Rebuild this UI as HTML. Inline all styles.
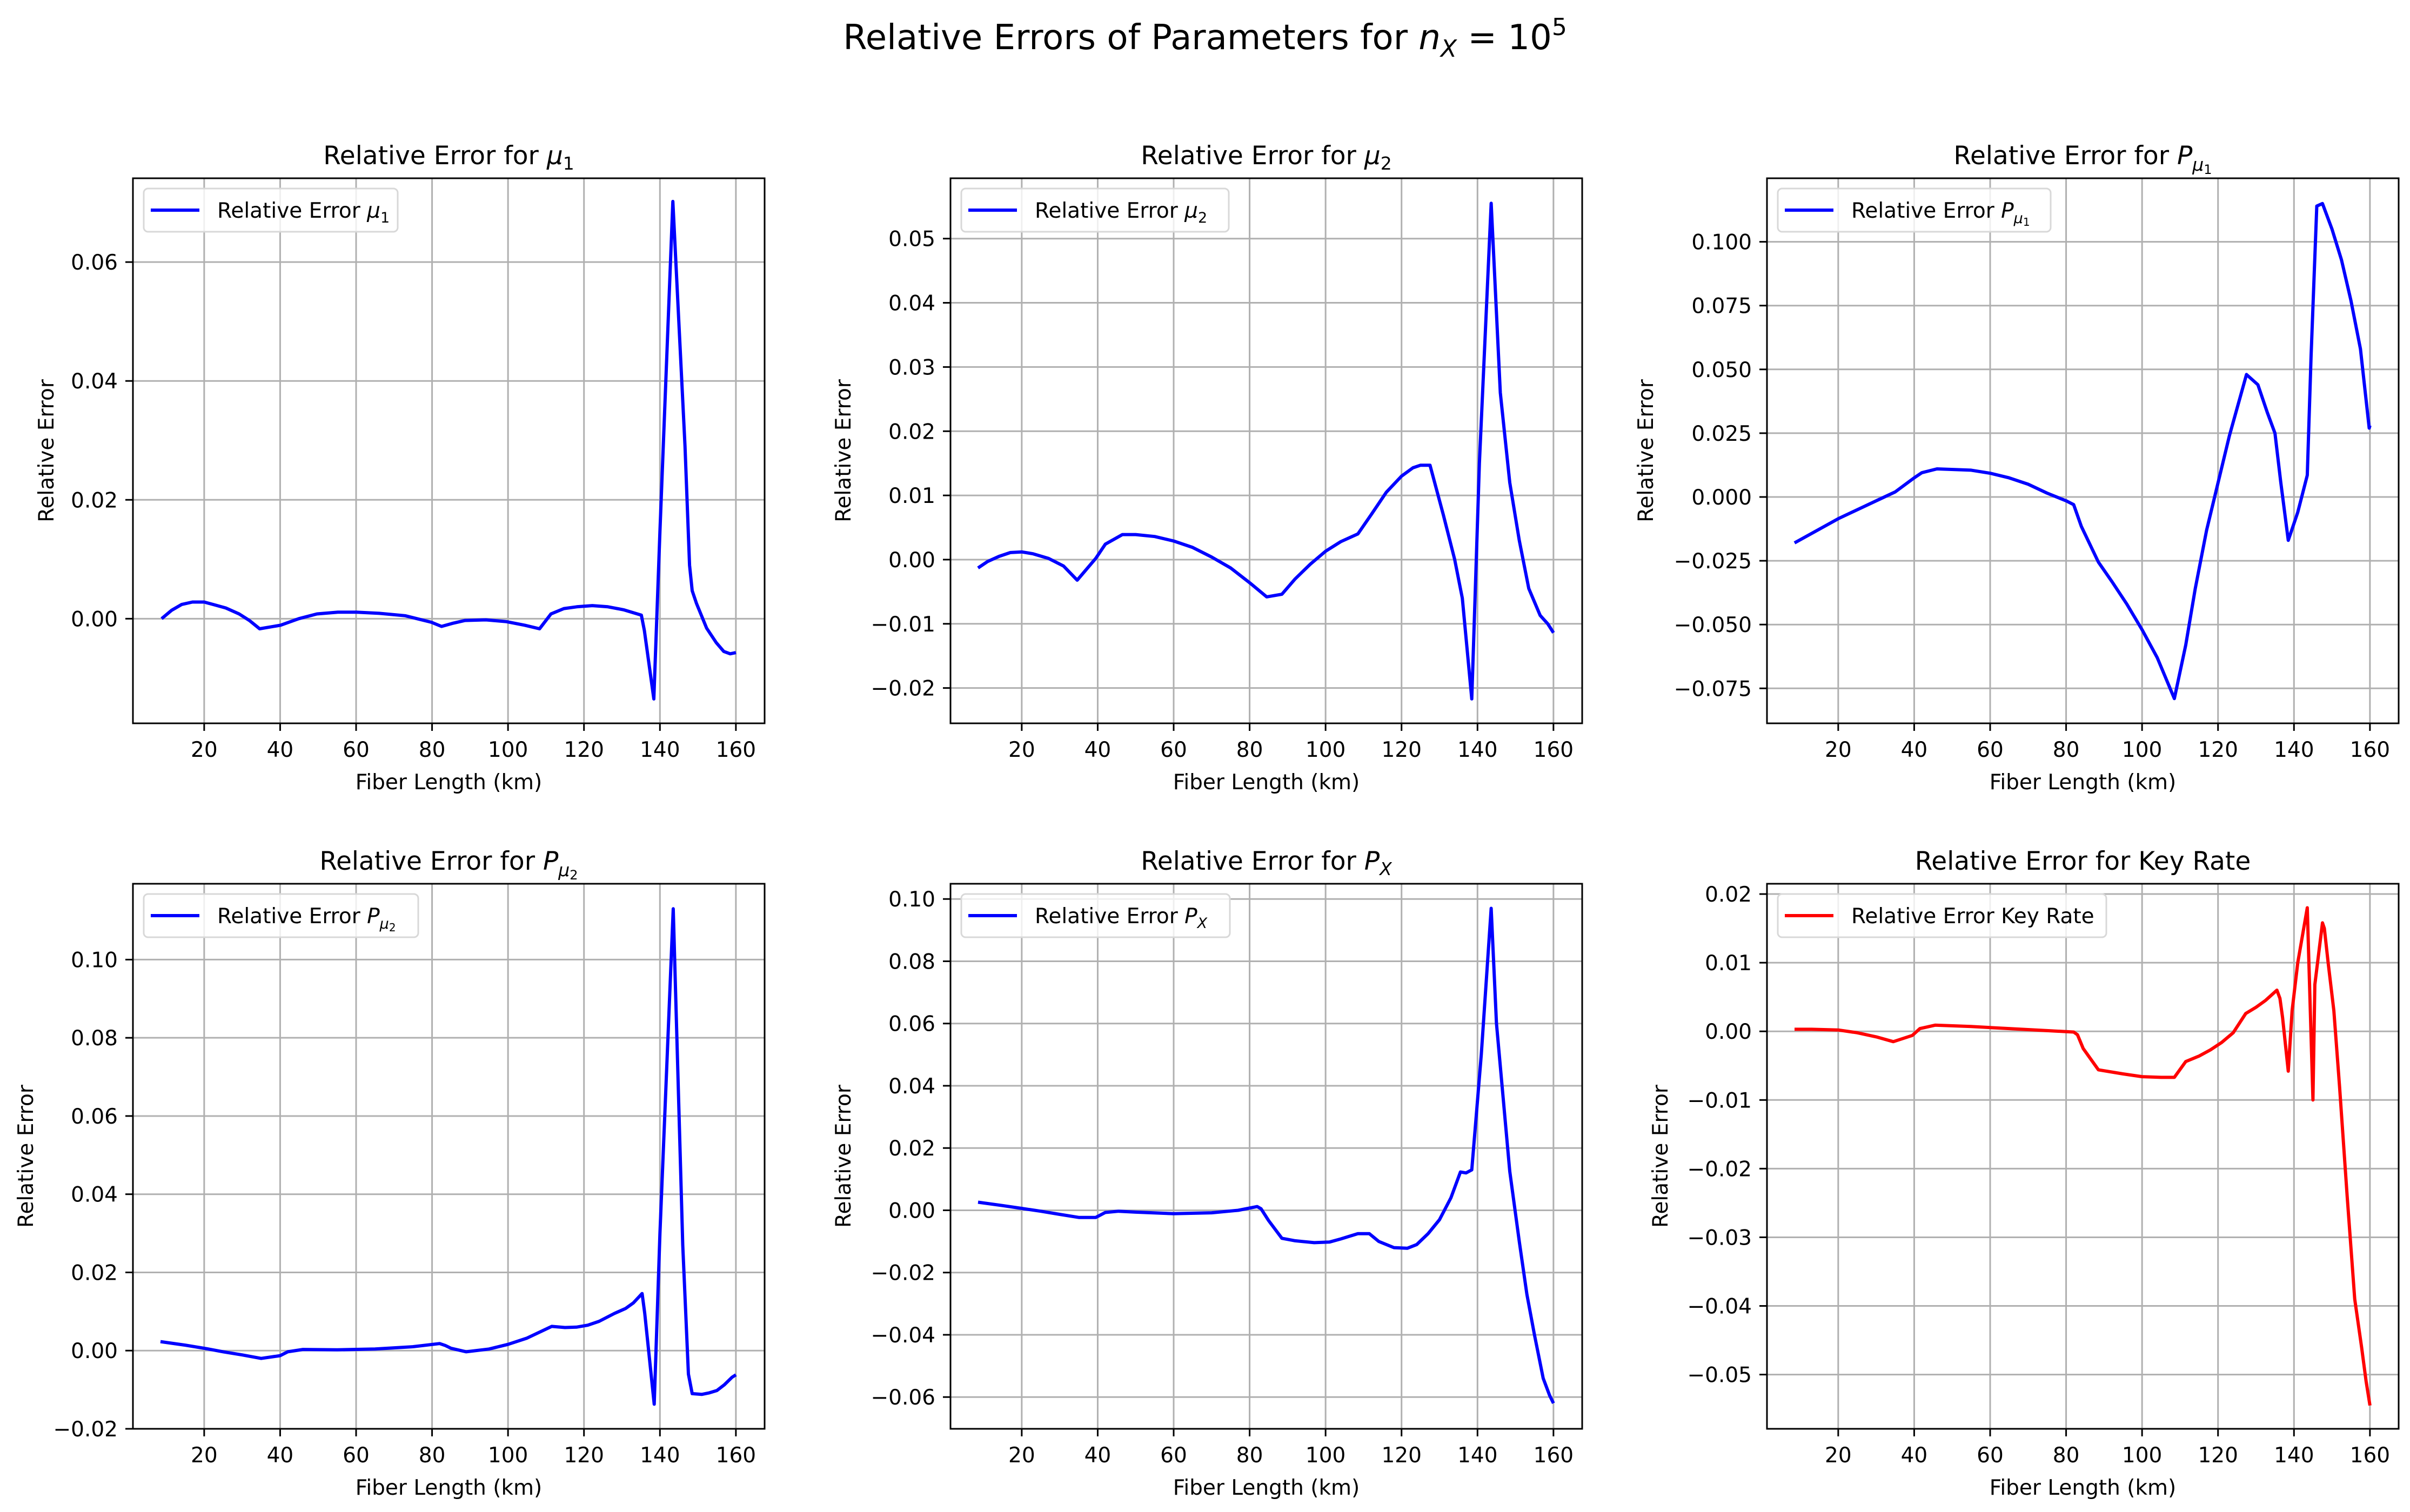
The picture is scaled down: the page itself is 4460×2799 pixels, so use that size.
<!DOCTYPE html>
<html><head><meta charset="utf-8">
<style>
html,body{margin:0;padding:0;background:#fff;}
svg{display:block;font-family:"DejaVu Sans","Liberation Sans",sans-serif;}
</style></head>
<body>
<svg id="fig" width="4460" height="2799" viewBox="0 0 4460 2799" xmlns="http://www.w3.org/2000/svg">
<rect x="0" y="0" width="4460" height="2799" fill="#fff"/>
<text x="2230" y="91" font-size="64" text-anchor="middle">Relative Errors of Parameters for <tspan font-style="italic">n</tspan><tspan font-style="italic" font-size="44" dy="14">X</tspan><tspan dy="-14"> = 10</tspan><tspan font-size="44" dy="-26">5</tspan></text>
</svg>
<script>
// ---- data (x in km, y relative error) ----
const xMu1 = [8.8,11.4,14.1,16.9,20,22.3,25.7,29.2,31.9,34.6,40.1,44.9,49.7,55.2,60.1,66.1,72.9,79.8,82.5,85.3,88.7,94.2,99.6,104.4,108.3,111.3,114.7,118.1,122.2,126.3,130.4,135.1,135.9,138.4,140,143.4,146.6,147.8,148.5,149.6,152.3,154.8,156.8,158.5,160];
const yMu1 = [0,0.0014,0.0024,0.0028,0.0028,0.0024,0.0018,0.0008,-0.0003,-0.0017,-0.0011,0,0.0008,0.0011,0.0011,0.0009,0.0005,-0.0006,-0.0013,-0.0008,-0.0003,-0.0002,-0.0005,-0.0011,-0.0017,0.0008,0.0017,0.0020,0.0022,0.0020,0.0015,0.0006,-0.002,-0.0135,0.0147,0.0702,0.029,0.009,0.0047,0.0026,-0.0016,-0.004,-0.0055,-0.0059,-0.0057];
const xMu2 = [8.5,11,14,17,20,23,27,31,34.6,39.5,42,46.5,50,55,60,65,70,75,80,84.5,88.5,92,96,100,104,108.5,112,116,120,123,125,127.5,131,134,136,138.5,140.5,143.6,146,148.5,151,153.5,156.5,158.5,160];
const yMu2 = [-0.0013,-0.0003,0.0005,0.0011,0.0012,0.0009,0.0002,-0.0010,-0.0032,0.0002,0.0024,0.0039,0.0039,0.0036,0.0029,0.0019,0.0004,-0.0013,-0.0036,-0.0058,-0.0054,-0.0030,-0.0007,0.0013,0.0028,0.0040,0.0070,0.0105,0.0130,0.0143,0.0147,0.0147,0.0070,0.0000,-0.0060,-0.0217,0.0150,0.0555,0.026,0.0120,0.0030,-0.0045,-0.0087,-0.0100,-0.0114];
const xPmu1 = [8.5,20,30,35,40,42,46,55,60,65,70,75,80,82,84,88.5,92,96,100,104,108.5,111.5,114,117,120,123,127.5,130.5,133,135,136.5,138.5,141,143.5,144.5,146,147.5,150,152.5,155,157.5,159.8,160];
const yPmu1 = [-0.018,-0.0085,-0.0015,0.002,0.0075,0.0095,0.011,0.0105,0.0093,0.0075,0.005,0.0015,-0.0015,-0.003,-0.0115,-0.0255,-0.033,-0.042,-0.052,-0.063,-0.079,-0.058,-0.036,-0.013,0.0055,0.024,0.048,0.044,0.033,0.025,0.006,-0.017,-0.006,0.0085,0.055,0.114,0.115,0.105,0.093,0.077,0.058,0.027,0.028];
const xPmu2 = [8.5,15,20,25,30,35,40,42,46,55,65,75,82,83.5,85,89,95,100,105,111.5,115,118,121,124,128,131,133,135.3,136,138.5,140,143.5,146,147.5,148.5,151,153,155,157,159,160];
const yPmu2 = [0.0023,0.0014,0.0006,-0.0003,-0.0011,-0.0020,-0.0013,-0.0003,0.0003,0.0002,0.0004,0.0010,0.0018,0.0013,0.0006,-0.0003,0.0004,0.0016,0.0032,0.0062,0.0059,0.0060,0.0065,0.0075,0.0095,0.0108,0.0122,0.0146,0.0095,-0.0137,0.030,0.113,0.027,-0.006,-0.011,-0.0112,-0.0108,-0.0102,-0.0087,-0.0068,-0.0062];
const xPX = [8.5,15,20,25,30,35,39.5,42,45.5,50,60,70,77,82,83,85,88.5,92,97,101,104,108.5,111.5,114,118,121.5,124,127,130,133,135.5,137,138.5,141,143.6,145,148.5,151,153,155,157.3,159,160];
const yPX = [0.0026,0.0015,0.0006,-0.0003,-0.0013,-0.0023,-0.0023,-0.0007,-0.0003,-0.0006,-0.0011,-0.0008,0.0000,0.0012,0.0005,-0.0033,-0.0090,-0.0098,-0.0104,-0.0102,-0.0092,-0.0075,-0.0075,-0.0100,-0.0120,-0.0122,-0.0110,-0.0075,-0.0030,0.0040,0.0123,0.0120,0.0130,0.050,0.097,0.060,0.0125,-0.010,-0.027,-0.040,-0.054,-0.0595,-0.062];
const xKey = [8.5,13,20,25,30,34.5,39.5,41.5,45.5,55,65,75,82,83,84.5,88.5,95,100,105,108.5,111.5,115,118,121,124,127.3,130,132.5,135.5,136.3,137,138.5,139.5,141,143.5,145,145.5,147.5,148,149,150.5,152,154,156,157.8,159,160];
const yKey = [0.0003,0.0003,0.0002,-0.0002,-0.0008,-0.0015,-0.0006,0.0004,0.0009,0.0007,0.0004,0.0001,-0.0001,-0.0005,-0.0025,-0.0056,-0.0062,-0.0066,-0.0067,-0.0067,-0.0044,-0.0036,-0.0027,-0.0016,-0.0002,0.0026,0.0035,0.0045,0.0060,0.0048,0.0020,-0.0058,0.0030,0.010,0.0180,-0.0100,0.0068,0.0158,0.0150,0.010,0.003,-0.008,-0.024,-0.039,-0.046,-0.051,-0.0545];
const xTicks = [20,40,60,80,100,120,140,160];
const yTicks1 = [0,0.02,0.04,0.06];
const yTicks2 = [-0.02,-0.01,0,0.01,0.02,0.03,0.04,0.05];
const yTicks3 = [-0.075,-0.05,-0.025,0,0.025,0.05,0.075,0.1];
const yTicks4 = [-0.02,0,0.02,0.04,0.06,0.08,0.1];
const yTicks5 = [-0.06,-0.04,-0.02,0,0.02,0.04,0.06,0.08,0.1];
const yTicks6 = [-0.05,-0.04,-0.03,-0.02,-0.01,0,0.01,0.02];

const NS = "http://www.w3.org/2000/svg";
const svg = document.getElementById('fig');
function mk(tag, attrs, parent){
  const e = document.createElementNS(NS, tag);
  for (const k in attrs) e.setAttribute(k, attrs[k]);
  (parent||svg).appendChild(e);
  return e;
}
const XMIN = 1.24, XMAX = 167.56;
const AW = 1169, AH = 1009;
const panels = [
  {key:'mu1', L:246, T:330, xs:xMu1, ys:yMu1, ylim:[-0.0176,0.0741], ticks:yTicks1, dec:2, color:'#0000ff', title:['Relative Error for ',['i','μ'],['s','1']], ylab:161, legW:470},
  {key:'mu2', L:1759, T:330, xs:xMu2, ys:yMu2, ylim:[-0.0255,0.0594], ticks:yTicks2, dec:2, color:'#0000ff', title:['Relative Error for ',['i','μ'],['s','2']], ylab:199, legW:495},
  {key:'p-mu1', L:3270, T:330, xs:xPmu1, ys:yPmu1, ylim:[-0.0887,0.1249], ticks:yTicks3, dec:3, color:'#0000ff', title:['Relative Error for ',['i','P'],['ss','μ','1']], ylab:225, legW:505},
  {key:'p-mu2', L:246, T:1636, xs:xPmu2, ys:yPmu2, ylim:[-0.0200,0.1194], ticks:yTicks4, dec:2, color:'#0000ff', title:['Relative Error for ',['i','P'],['ss','μ','2']], ylab:199, legW:508},
  {key:'p-x', L:1759, T:1636, xs:xPX, ys:yPX, ylim:[-0.0702,0.1049], ticks:yTicks5, dec:2, color:'#0000ff', title:['Relative Error for ',['i','P'],['s','X','i']], ylab:199, legW:497},
  {key:'key-rate', L:3270, T:1636, xs:xKey, ys:yKey, ylim:[-0.0579,0.0215], ticks:yTicks6, dec:2, color:'#ff0000', title:['Relative Error for Key Rate'], ylab:198, legW:608}
];
function fillMath(t, parts, fs){
  for (const p of parts){
    if (typeof p === 'string'){ const s = mk('tspan',{},t); s.textContent = p; }
    else if (p[0]==='i'){ const s = mk('tspan',{'font-style':'italic'},t); s.textContent = p[1]; }
    else if (p[0]==='s'){
      const s = mk('tspan',{'font-size':Math.round(fs*0.7),dy:Math.round(fs*0.22)},t);
      if (p[2]==='i') s.setAttribute('font-style','italic');
      s.textContent = p[1];
      const b = mk('tspan',{dy:-Math.round(fs*0.22)},t); b.textContent='\u200b';
    } else if (p[0]==='ss'){
      const s = mk('tspan',{'font-size':Math.round(fs*0.7),'font-style':'italic',dy:Math.round(fs*0.25)},t); s.textContent = p[1];
      const s2 = mk('tspan',{'font-size':Math.round(fs*0.5),dy:Math.round(fs*0.12)},t); s2.textContent = p[2];
      const b = mk('tspan',{dy:-Math.round(fs*0.37)},t); b.textContent='\u200b';
    }
  }
}
function fmt(v, d){ const s = Math.abs(v).toFixed(d); return (v < -1e-12 ? '\u2212' : '') + s; }

panels.forEach(P => {
  const g = mk('g', {});
  
  
  const sx = v => P.L + (v - XMIN) / (XMAX - XMIN) * AW;
  const sy = v => P.T + AH - (v - P.ylim[0]) / (P.ylim[1] - P.ylim[0]) * AH;
  const B = P.T + AH;
  // grid + ticks
  xTicks.forEach(t => {
    const x = sx(t);
    const gl = mk('line',{x1:x,x2:x,y1:P.T,y2:B,stroke:'#b0b0b0','stroke-width':3},g);
    
    
    mk('line',{x1:x,x2:x,y1:B,y2:B+14,stroke:'#000','stroke-width':3},g);
    const tl = mk('text',{x:x,y:B+62,'font-size':39,'text-anchor':'middle'},g);
    
    
    tl.textContent = String(t);
  });
  P.ticks.forEach(t => {
    const y = sy(t);
    const gl = mk('line',{x1:P.L,x2:P.L+AW,y1:y,y2:y,stroke:'#b0b0b0','stroke-width':3},g);
    
    
    mk('line',{x1:P.L-14,x2:P.L,y1:y,y2:y,stroke:'#000','stroke-width':3},g);
    const tl = mk('text',{x:P.L-28,y:y+14,'font-size':39,'text-anchor':'end'},g);
    
    
    tl.textContent = fmt(t, P.dec);
  });
  // series line
  let d = '';
  P.xs.forEach((xv,i) => { d += (i?'L':'M') + sx(xv).toFixed(1) + ',' + sy(P.ys[i]).toFixed(1); });
  const cp = mk('clipPath',{id:'clip-'+P.key},g);
  mk('rect',{x:P.L,y:P.T,width:AW,height:AH},cp);
  const line = mk('path',{d:d,fill:'none',stroke:P.color,'stroke-width':6,'stroke-linejoin':'round','clip-path':'url(#clip-'+P.key+')'},g);
  
  
  // frame
  const fr = mk('rect',{x:P.L,y:P.T,width:AW,height:AH,fill:'none',stroke:'#000','stroke-width':3},g);
  
  
  // title
  const tt = mk('text',{x:P.L+AW/2,y:P.T-26,'font-size':47,'text-anchor':'middle'},g);
  
  
  fillMath(tt, P.title, 47);
  // axis labels
  const xl = mk('text',{x:P.L+AW/2,y:B+122,'font-size':39,'text-anchor':'middle'},g);
  
  
  xl.textContent = 'Fiber Length (km)';
  const yx = P.L - P.ylab, yy = P.T + AH/2;
  const yl = mk('text',{x:yx,y:yy,'font-size':39,'text-anchor':'middle',transform:'rotate(-90 '+yx+' '+yy+')',dy:14},g);
  
  
  yl.textContent = 'Relative Error';
  // legend
  const lg = mk('g',{},g);
  
  
  mk('rect',{x:P.L+20,y:P.T+19,width:P.legW,height:80,rx:8,fill:'#fff','fill-opacity':0.8,stroke:'#d8d8d8','stroke-width':3},lg);
  mk('line',{x1:P.L+33,x2:P.L+123,y1:P.T+59,y2:P.T+59,stroke:P.color,'stroke-width':6},lg);
  const lt = mk('text',{x:P.L+156,y:P.T+73,'font-size':39},lg);
  
  
  const lparts = ['Relative Error '].concat(P.title.slice(1).length ? P.title.slice(1) : ['Key Rate']);
  fillMath(lt, lparts, 39);
});
</script>
</body></html>
